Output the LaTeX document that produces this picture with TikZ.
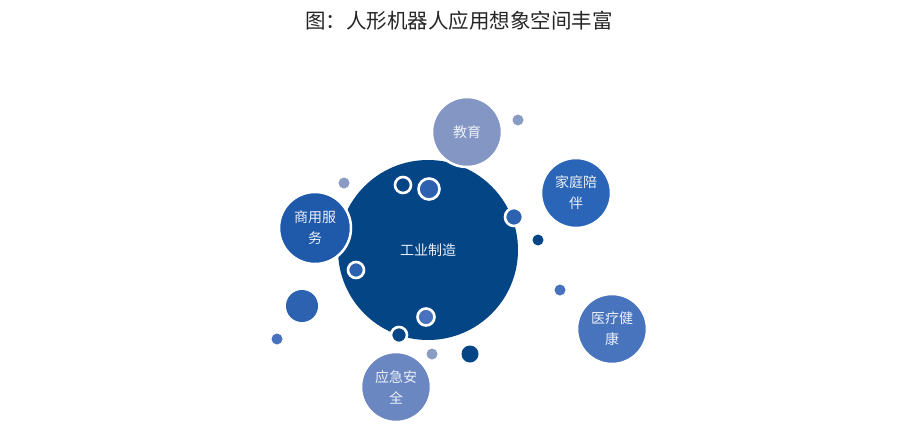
\documentclass[tikz,border=0pt]{standalone}
\usepackage{fontspec}
\newfontfamily\cjk{Noto Sans CJK SC}
\definecolor{navy}{RGB}{4,69,133}
\definecolor{edu}{RGB}{132,150,196}
\definecolor{home}{RGB}{42,101,183}
\definecolor{biz}{RGB}{31,89,170}
\definecolor{med}{RGB}{72,115,189}
\definecolor{emg}{RGB}{106,135,194}
\definecolor{midblue}{RGB}{45,98,176}
\definecolor{lightblue}{RGB}{72,114,190}
\definecolor{grayblue}{RGB}{140,155,195}
\definecolor{txt}{RGB}{235,240,248}
\tikzset{
  bubble/.style={circle, inner sep=0pt, draw=white, line width=2.5pt, text=txt, font=\cjk\fontsize{14}{21}\selectfont, align=center},
  ring/.style={circle, inner sep=0pt, draw=white, line width=2.6pt},
  dot/.style={circle, inner sep=0pt, draw=none},
}
\begin{document}
\begin{tikzpicture}[x=1pt,y=-1pt]
\useasboundingbox[fill=white] (0,0) rectangle (901,447);
\node[font=\cjk\fontsize{20.5}{24}\selectfont, text=black!85] (title) at (459,21) {图：人形机器人应用想象空间丰富};
% main circle
\node[circle, inner sep=0pt, fill=navy, minimum size=180pt, text=txt, font=\cjk\fontsize{14}{21}\selectfont] (main) at (428,250) {工业制造};
% rings on main circle
\node[ring, fill=navy, minimum size=16pt] (r1) at (403,185) {};
\node[ring, fill=midblue, minimum size=21pt] (r2) at (429,189) {};
\node[ring, fill=midblue, minimum size=18pt] (r3) at (514,217) {};
\node[ring, fill=midblue, minimum size=16pt] (r4) at (356,270) {};
\node[ring, fill=lightblue, minimum size=17pt] (r5) at (426,317) {};
\node[ring, fill=navy, minimum size=16pt] (r6) at (399,335) {};
% satellites
\node[bubble, fill=edu, minimum size=70pt] (edu) at (467,132) {教育};
\node[bubble, fill=home, minimum size=70pt] (home) at (576,193) {家庭陪\\伴};
\node[bubble, fill=biz, minimum size=72pt] (biz) at (315,228) {商用服\\务};
\node[bubble, fill=med, minimum size=70pt] (med) at (612,329) {医疗健\\康};
\node[bubble, fill=emg, minimum size=70pt] (emg) at (396,387) {应急安\\全};
% small dots
\node[dot, fill=grayblue, minimum size=11pt] (d1) at (518,120) {};
\node[dot, fill=grayblue, minimum size=11pt] (d2) at (344,183) {};
\node[dot, fill=navy, minimum size=11pt] (d3) at (538,240) {};
\node[dot, fill=lightblue, minimum size=11pt] (d4) at (560,290) {};
\node[dot, fill=midblue, minimum size=32pt] (d5) at (302,306) {};
\node[dot, fill=lightblue, minimum size=11pt] (d6) at (277,339) {};
\node[dot, fill=grayblue, minimum size=11pt] (d7) at (432,354) {};
\node[dot, fill=navy, minimum size=17pt] (d8) at (470,354) {};
\end{tikzpicture}
\end{document}
